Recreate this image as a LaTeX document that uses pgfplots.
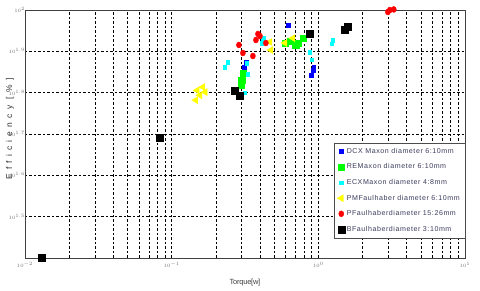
\documentclass[border=0pt]{standalone}
\usepackage{fontspec}
\setmainfont{Liberation Sans}
\usepackage{pgfplots}
\pgfplotsset{compat=1.18}
\definecolor{legtxt}{RGB}{60,60,95}
\definecolor{cyanm}{RGB}{0,255,255}
\definecolor{yel}{RGB}{255,255,0}
\begin{document}
\begin{tikzpicture}
\begin{axis}[
  width=440bp, height=248bp, scale only axis,
  xmode=log, ymode=log,
  xmin=0.01, xmax=10, ymin=25.12, ymax=100,
  xtick={0.01,0.1,1,10},
  xticklabels={$10^{-2}$,$10^{-1}$,$10^{0}$,$10^{1}$},
  ytick={31.62,39.81,50.12,63.1,79.43,100},
  yticklabels={$10^{1.5}$,$10^{1.6}$,$10^{1.7}$,$10^{1.8}$,$10^{1.9}$,$10^{2}$},
  yminorticks=false,
  xmajorgrids, xminorgrids, ymajorgrids,
  major tick length=0pt, minor tick length=0pt,
  grid style={black, dash pattern=on 2.5bp off 2bp, line width=0.6bp},
  minor grid style={black, dash pattern=on 2.5bp off 2bp, line width=0.6bp},
  axis line style={black!75, line width=0.9bp},
  tick label style={font=\fontsize{3.6}{4}\selectfont, text=black!55},
  yticklabel style={xshift=1.2bp, inner xsep=1bp},
  xticklabel style={yshift=-1bp},
  xlabel={Torque[w]},
  ylabel={Efficiency [\%]},
  xlabel style={at={(axis description cs:0.5,-0.1)}, anchor=center,
    font=\fontsize{7.5}{8}\selectfont\addfontfeatures{LetterSpace=-3}, text=black!75},
  ylabel style={at={(axis description cs:-0.034,0.52)}, anchor=center,
    font=\fontsize{8.5}{9}\selectfont\addfontfeatures{LetterSpace=50}, text=black!80},
  clip=false,
  legend style={at={(rel axis cs:1,0.081)}, anchor=south east,
    font=\fontsize{7.1}{8}\selectfont\addfontfeatures{LetterSpace=8}, text=legtxt, draw=black!70,
    fill=white, row sep=5bp, inner xsep=3bp, inner ysep=3bp},
  legend cell align=left,
]
% DCX Maxon
\addplot[only marks, mark=square*, mark size=1.8bp, color=blue] coordinates {
(0.621,92.0) (0.919,71.6) (0.890,69.6) (0.321,74.8) (0.311,72.8) (0.930,73.0)
};
\addlegendentry{DCX Maxon diameter 6:10mm}
% RE Maxon
\addplot[only marks, mark=square*, mark size=3.2bp, color=green] coordinates {
(0.301,67.7) (0.306,70.4) (0.297,65.8) (0.592,83.2) (0.726,83.2) (0.785,85.5) (0.640,84.0) (0.700,82.5)
};
\addlegendentry{REMaxon diameter 6:10mm}
% ECX Maxon
\addplot[only marks, mark=square*, mark size=1.7bp, color=cyanm] coordinates {
(0.231,72.8) (0.242,74.8) (0.326,74.4) (0.331,70.0) (0.316,63.0) (0.4125,83.2) (0.420,85.5) (0.876,79.1) (0.904,75.7) (1.238,82.8) (1.25,84.5)
};
\addlegendentry{ECXMaxon diameter 4:8mm}
% PM Faulhaber
\addplot[only marks, mark=triangle*, mark options={rotate=90}, mark size=4bp, color=yel] coordinates {
(0.149,63.9) (0.156,62.2) (0.163,65.1) (0.146,60.5) (0.169,63.3) (0.475,80.0) (0.468,83.7) (0.592,83.2) (0.671,85.5)
};
\addlegendentry{PMFaulhaber diameter 6:10mm}
% P Faulhaber
\addplot[only marks, mark=*, mark options={xscale=0.85}, mark size=3bp, color=red] coordinates {
(3.076,100) (2.98,98.9) (3.27,100.3) (0.2875,82.3) (0.306,78.7) (0.358,77.4) (0.3755,84.6) (0.3876,87.5) (0.439,83.2) (0.400,86.5)
};
\addlegendentry{PFaulhaberdiameter 15:26mm}
% B Faulhaber
\addplot[only marks, mark=square*, mark size=3.5bp, color=black] coordinates {
(0.01306,25.2) (0.0832,49.0) (0.270,63.7) (0.292,61.9) (0.876,87.5) (1.518,89.4) (1.591,90.9)
};
\addlegendentry{BFaulhaberdiameter 3:10mm}
\end{axis}
\pgfresetboundingbox
\path ([shift={(-25bp,-33bp)}]current axis.south west) rectangle ([shift={(15bp,10bp)}]current axis.north east);
\end{tikzpicture}
\end{document}
